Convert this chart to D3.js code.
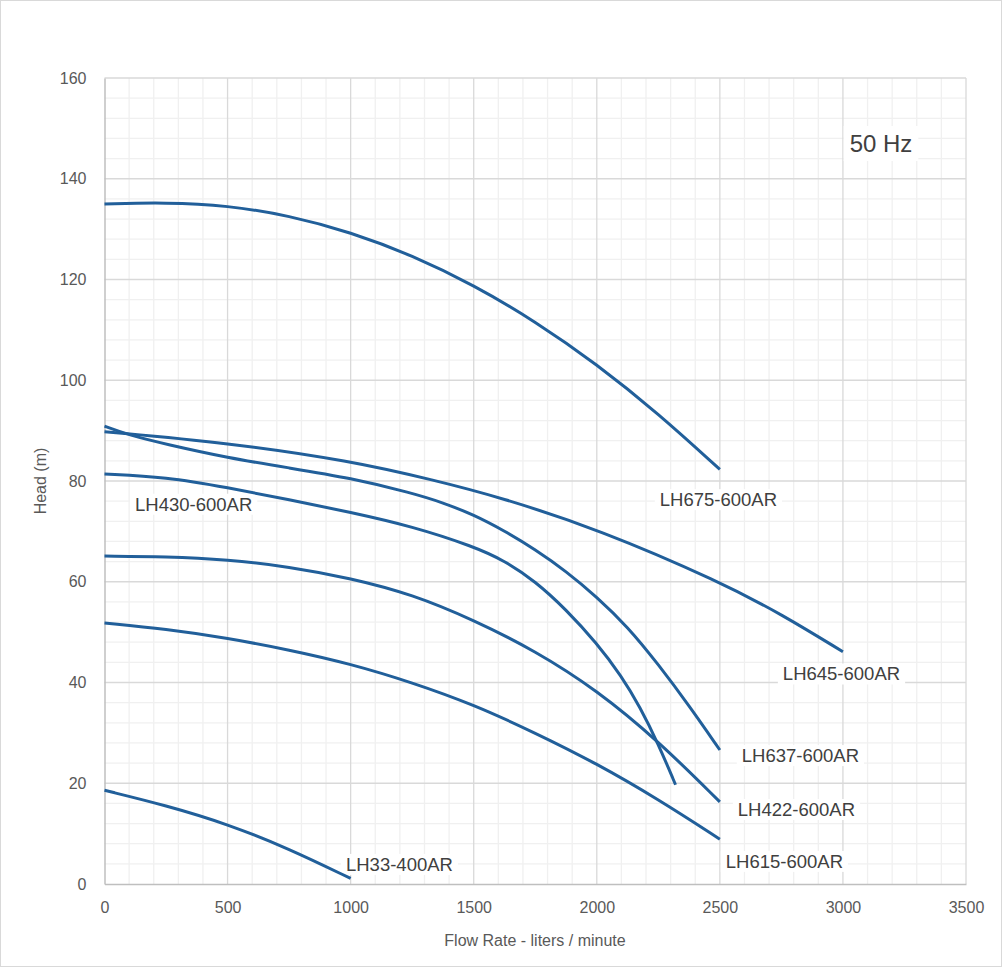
<!DOCTYPE html>
<html><head><meta charset="utf-8">
<script src="https://cdn.jsdelivr.net/npm/d3@7"></script>
<style>body{margin:0;background:#fff;}svg{display:block;font-family:"Liberation Sans",Arial,sans-serif;}</style>
</head><body><svg id="c" width="1002" height="967"></svg>
<script>
const xTicks = [0,500,1000,1500,2000,2500,3000,3500];
const yTicks = [0,20,40,60,80,100,120,140,160];
const seriesNames = ["LH675-600AR","LH645-600AR","LH637-600AR","LH430-600AR","LH422-600AR","LH615-600AR","LH33-400AR"];
const LH675 = [[0,135.0],[250,135.3],[500,134.7],[750,132.7],[1000,129.4],[1250,124.8],[1500,118.9],[1750,111.7],[2000,103.2],[2250,93.4],[2500,82.3]];
const LH645 = [[0,89.8],[500,87.6],[1000,84.0],[1336,80.2],[1606,76.8],[2013,70.3],[2500,60.0],[2756,53.4],[3000,46.1]];
const LH637 = [[0,90.9],[100,89.1],[250,87.3],[500,84.6],[750,82.6],[1000,80.6],[1250,77.6],[1375,75.7],[1500,73.3],[1625,70.1],[1750,66.4],[1875,62.1],[2000,57.0],[2125,51.1],[2250,43.6],[2375,35.4],[2500,26.6]];
const LH430 = [[0,81.4],[250,80.8],[500,78.7],[750,76.3],[1000,73.8],[1250,71.0],[1500,67.0],[1625,64.2],[1750,60.1],[1875,54.5],[2000,47.8],[2100,41.3],[2175,35.2],[2250,27.8],[2320,19.7]];
const LH422 = [[0,65.1],[250,65.0],[500,64.4],[750,63.0],[1000,60.7],[1250,57.5],[1500,52.4],[1750,46.3],[2000,38.5],[2250,28.4],[2500,16.3]];
const LH615 = [[0,51.8],[250,50.6],[500,48.8],[750,46.5],[1000,43.7],[1250,40.0],[1500,35.6],[1750,30.0],[2000,23.9],[2250,16.8],[2500,8.9]];
const LH33 = [[0,18.6],[250,15.6],[500,11.9],[750,7.0],[1000,1.1]];
const seriesData = [LH675,LH645,LH637,LH430,LH422,LH615,LH33];
// label anchors (data coords: text start x, baseline y)
const labelAnchors = [[2256,75.0],[2756,40.4],[2589,24.2],[124,74.1],[2573,13.5],[2524,3.2],[981,2.6]];
const titleX = "Flow Rate - liters / minute", titleY = "Head (m)", freqLabel = "50 Hz";

const svg = d3.select("#c");
const L=104.5, R=966, T=78, B=884;
const x = d3.scaleLinear().domain([0,3500]).range([L,R]);
const y = d3.scaleLinear().domain([0,160]).range([B,T]);

svg.append("rect").attr("x",0.5).attr("y",0.5).attr("width",1001).attr("height",966).attr("fill","#fff").attr("stroke","#d9d9d9");

const g = svg.append("g");
g.selectAll(".mx").data(d3.range(0,3501,100).filter(v=>v%500)).join("line")
 .attr("x1",d=>x(d)).attr("x2",d=>x(d)).attr("y1",T).attr("y2",B).attr("stroke","#f0f0f0").attr("stroke-width",1.3);
g.selectAll(".my").data(d3.range(0,161,4).filter(v=>v%20)).join("line")
 .attr("y1",d=>y(d)).attr("y2",d=>y(d)).attr("x1",L).attr("x2",R).attr("stroke","#f0f0f0").attr("stroke-width",1.3);
g.selectAll(".Mx").data(xTicks.slice(1)).join("line")
 .attr("x1",d=>x(d)).attr("x2",d=>x(d)).attr("y1",T).attr("y2",B).attr("stroke","#d9d9d9").attr("stroke-width",1.3);
g.selectAll(".My").data(yTicks.slice(1)).join("line")
 .attr("y1",d=>y(d)).attr("y2",d=>y(d)).attr("x1",L).attr("x2",R).attr("stroke","#d9d9d9").attr("stroke-width",1.3);

const xa = svg.append("g").attr("transform",`translate(0,${B})`).call(d3.axisBottom(x).tickValues(xTicks).tickSize(0).tickPadding(18).tickFormat(d3.format("d")));
const ya = svg.append("g").attr("transform",`translate(${L},0)`).call(d3.axisLeft(y).tickValues(yTicks).tickSize(0).tickPadding(18).tickFormat(d3.format("d")));
[xa,ya].forEach(a=>{a.select(".domain").attr("stroke","#bfbfbf").attr("stroke-width",1.5);
 a.selectAll("text").attr("fill","#595959").attr("font-size",16).attr("font-family","Liberation Sans, Arial, sans-serif");});

svg.append("text").attr("x",535).attr("y",946).attr("text-anchor","middle").attr("fill","#595959").attr("font-size",16).text(titleX);
svg.append("text").attr("transform","translate(46,481) rotate(-90)").attr("text-anchor","middle").attr("fill","#595959").attr("font-size",16).text(titleY);

const lg = svg.append("g");
seriesNames.forEach((n,i)=>{
  const [ax,ay]=labelAnchors[i];
  const gg = lg.append("g");
  const r = gg.append("rect").attr("fill","#fff");
  const t = gg.append("text").attr("x",x(ax)).attr("y",y(ay)).attr("fill","#404040").attr("font-size",18.5).text(n);
  const bb = t.node().getBBox();
  r.attr("x",bb.x-5).attr("y",bb.y).attr("width",bb.width+10).attr("height",bb.height);
});
const fg = svg.append("g");
const fr = fg.append("rect").attr("fill","#fff");
const ft = fg.append("text").attr("x",881).attr("y",152).attr("text-anchor","middle").attr("fill","#404040").attr("font-size",24).text(freqLabel);
const fb = ft.node().getBBox();
fr.attr("x",fb.x-6).attr("y",fb.y-4).attr("width",fb.width+12).attr("height",fb.height+8);

const line = d3.line().x(d=>x(d[0])).y(d=>y(d[1])).curve(d3.curveBasis);
svg.append("g").selectAll("path").data(seriesData).join("path")
 .attr("d",line).attr("fill","none").attr("stroke","#215f9a").attr("stroke-width",3).attr("stroke-linecap","butt");
</script></body></html>
